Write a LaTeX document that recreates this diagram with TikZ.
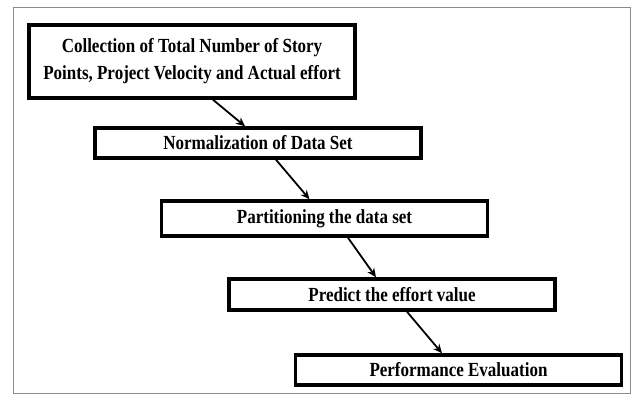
\documentclass[tikz,border=0pt]{standalone}
\usepackage{fontspec}
\setmainfont[FakeStretch=0.85]{Liberation Serif}
\usetikzlibrary{arrows.meta}
\usetikzlibrary{calc,positioning}

\tikzset{
    stagebox/.style={draw=black, line width=3.5pt, fill=white, inner sep=0pt,
        minimum width=326pt, align=center, font=\fontsize{20}{27}\selectfont\bfseries},
    flow/.style={line width=1.8pt, -{Stealth[length=9pt,width=8pt]}}
}

\begin{document}
\begin{tikzpicture}[x=1pt,y=-1pt]
    \useasboundingbox (0,0) rectangle (635,401);
    % frame
    \draw[color=black!45, line width=1pt] (13,8) rectangle (630,393);

    \node[stagebox, minimum height=73pt] (collect) at (192,61.5)
        {Collection of Total Number of Story\\Points, Project Velocity and Actual effort};
    \node[stagebox, minimum height=30pt] (norm) at (258,143) {Normalization of Data Set};
    \node[stagebox, minimum height=35pt] (part) at (324.5,218.5) {Partitioning the data set};
    \node[stagebox, minimum height=31pt] (pred) at (392,294.5) {Predict the effort value};
    \node[stagebox, minimum height=30pt] (perf) at (458.5,370) {Performance Evaluation};

    \draw[flow] ([xshift=21pt]collect.south) -- ([xshift=-13pt]norm.north);
    \draw[flow] ([xshift=18pt]norm.south) -- ([xshift=-15pt]part.north);
    \draw[flow] ([xshift=23.5pt]part.south) -- ([xshift=-16pt]pred.north);
    \draw[flow] ([xshift=15pt]pred.south) -- ([xshift=-16.5pt]perf.north);
\end{tikzpicture}
\end{document}
